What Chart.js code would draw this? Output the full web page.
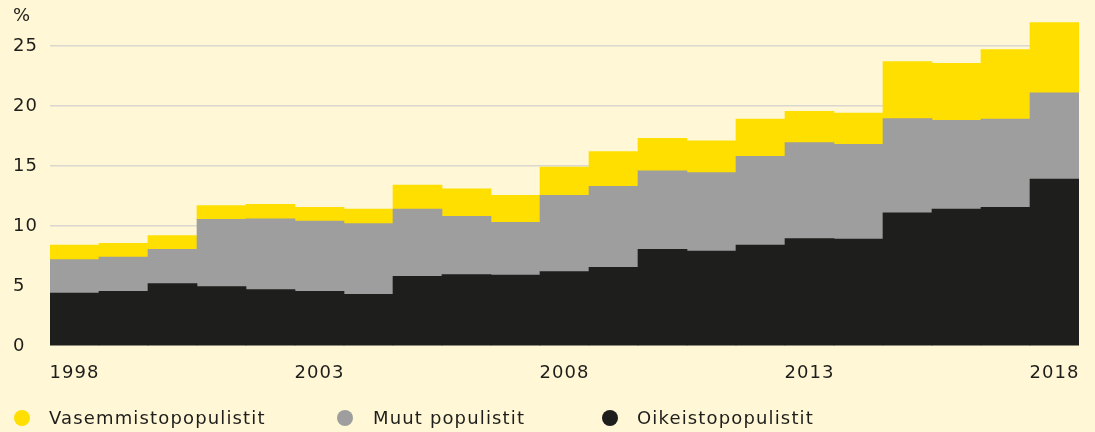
<!DOCTYPE html>
<html>
<head>
<meta charset="utf-8">
<script src="https://cdn.jsdelivr.net/npm/chart.js@4/dist/chart.umd.min.js"></script>
<style>
    body { margin: 0; background: #fff7d5; }
    #wrap { position: relative; width: 1095px; height: 432px; background: #fff7d5; font-family: 'DejaVu Sans', sans-serif; color: #1e1e1c; }
    #chart { position: absolute; left: 0; top: 0; }
    .unit { position: absolute; left: 13px; top: 4px; font-size: 18px; }
    .legend-item { position: absolute; top: 407px; font-size: 18px; line-height: 22px; letter-spacing: 1.15px; white-space: nowrap; }
    .legend-item .dot { position: absolute; top: 3px; width: 16px; height: 16px; border-radius: 50%; }
</style>
</head>
<body>
<div id="wrap">
    <canvas id="chart" width="1095" height="432"></canvas>
    <div class="unit">%</div>
    <div id="legend"></div>
</div>
<script>
const years = ['1998', '1999', '2000', '2001', '2002', '2003', '2004', '2005', '2006', '2007', '2008',
    '2009', '2010', '2011', '2012', '2013', '2014', '2015', '2016', '2017', '2018'];
const shownYears = ['1998', '2003', '2008', '2013', '2018'];
const yTicks = [0, 5, 10, 15, 20, 25];

const oikeistopopulistit = [4.4, 4.55, 5.2, 4.95, 4.7, 4.55, 4.3, 5.8, 5.95, 5.9, 6.2,
    6.55, 8.05, 7.9, 8.4, 8.95, 8.9, 11.1, 11.4, 11.55, 13.9];
const muutPopulistit = [2.8, 2.85, 2.85, 5.6, 5.9, 5.85, 5.9, 5.6, 4.85, 4.4, 6.35,
    6.75, 6.55, 6.55, 7.4, 8.0, 7.9, 7.85, 7.4, 7.35, 7.2];
const vasemmistopopulistit = [1.2, 1.15, 1.15, 1.15, 1.2, 1.15, 1.2, 2.0, 2.3, 2.25, 2.35,
    2.9, 2.7, 2.65, 3.1, 2.6, 2.6, 4.75, 4.75, 5.8, 5.85];

const textColor = '#1e1e1c';
const tickFont = { family: "'DejaVu Sans', sans-serif", size: 18 };

// legend sits in html so the spacing can follow the original
const legendItems = [
    { label: 'Vasemmistopopulistit', color: '#ffdf00', dotX: 14, textX: 49 },
    { label: 'Muut populistit', color: '#9e9e9e', dotX: 337, textX: 373 },
    { label: 'Oikeistopopulistit', color: '#1e1e1c', dotX: 602, textX: 637 }
];

function buildLegend() {
    const legend = document.getElementById('legend');
    legendItems.forEach(item => {
        const el = document.createElement('div');
        el.className = 'legend-item';
        el.style.left = item.textX + 'px';
        const dot = document.createElement('span');
        dot.className = 'dot';
        dot.style.background = item.color;
        dot.style.left = (item.dotX - item.textX) + 'px';
        el.appendChild(dot);
        el.appendChild(document.createTextNode(item.label));
        legend.appendChild(el);
    });
}

function barSet(label, data, color) {
    return {
        label,
        data,
        backgroundColor: color,
        borderWidth: 0,
        barPercentage: 1,
        categoryPercentage: 1
    };
}

// the original type is set wider than DejaVu, a little tracking makes up for it
const trackingPlugin = {
    id: 'tracking',
    beforeDraw: chart => { chart.ctx.letterSpacing = '1px'; }
};

buildLegend();

new Chart(document.getElementById('chart').getContext('2d'), {
    type: 'bar',
    data: {
        labels: years,
        datasets: [
            barSet('Oikeistopopulistit', oikeistopopulistit, '#1e1e1c'),
            barSet('Muut populistit', muutPopulistit, '#9e9e9e'),
            barSet('Vasemmistopopulistit', vasemmistopopulistit, '#ffdf00')
        ]
    },
    plugins: [trackingPlugin],
    options: {
        responsive: false,
        animation: false,
        layout: { padding: { left: 13, right: 16, top: 22, bottom: 46 } },
        plugins: {
            legend: { display: false },
            tooltip: { enabled: false },
            title: { display: false }
        },
        scales: {
            x: {
                stacked: true,
                grid: { display: false, drawTicks: false },
                border: { display: false },
                ticks: {
                    autoSkip: false,
                    maxRotation: 0,
                    padding: 17,
                    color: textColor,
                    font: tickFont,
                    callback: (value, index) => shownYears.includes(years[index]) ? years[index] : ''
                },
                afterFit: scale => { scale.height = 40; }
            },
            y: {
                stacked: true,
                min: 0,
                max: 27,
                grid: {
                    drawTicks: false,
                    lineWidth: 1.5,
                    color: ctx => ctx.tick && ctx.tick.value === 0 ? 'rgba(0,0,0,0)' : '#d9d7cf'
                },
                border: { display: false },
                ticks: {
                    stepSize: 5,
                    crossAlign: 'far',
                    color: textColor,
                    font: tickFont
                },
                afterBuildTicks: scale => {
                    scale.ticks = yTicks.map(v => ({ value: v }));
                },
                afterFit: scale => { scale.width = 37; }
            }
        }
    }
});
</script>
</body>
</html>
